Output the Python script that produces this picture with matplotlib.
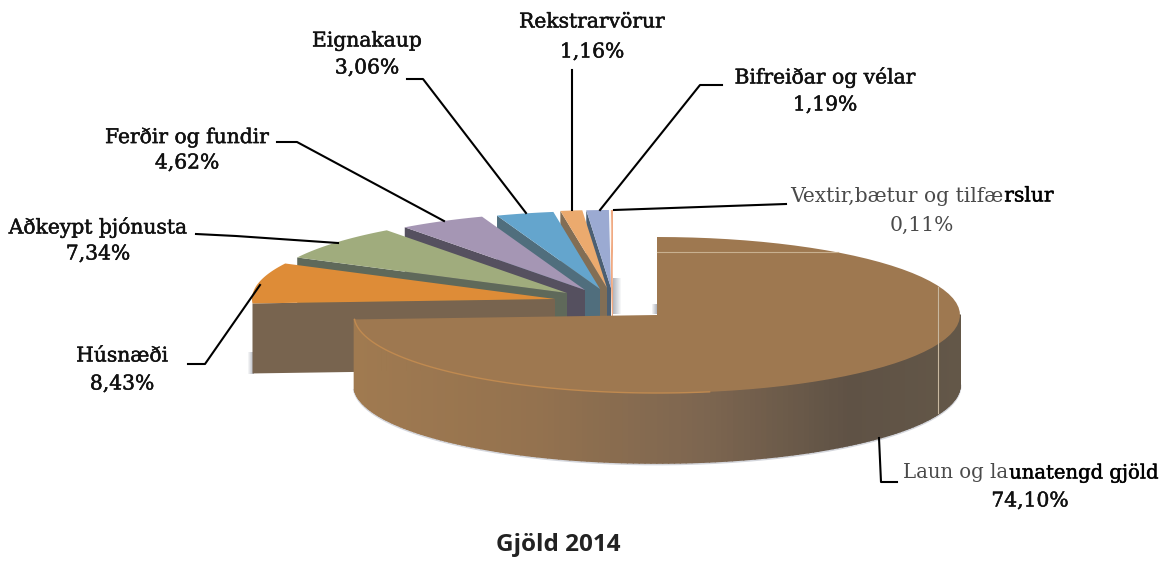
#!/usr/bin/env python
"""Exploded 3D style pie of Gjöld 2014, drawn with plain polygons."""
import matplotlib
matplotlib.use("Agg")
import matplotlib.patheffects as pe
import matplotlib.pyplot as plt
from matplotlib.collections import PolyCollection
from matplotlib.colors import LinearSegmentedColormap
import numpy as np

labels = ["Laun og launatengd gjöld", "Húsnæði", "Aðkeypt þjónusta",
          "Ferðir og fundir", "Eignakaup", "Rekstrarvörur",
          "Bifreiðar og vélar", "Vextir,bætur og tilfærslur"]
values = [74.10, 8.43, 7.34, 4.62, 3.06, 1.16, 1.19, 0.11]
value_text = ["74,10%", "8,43%", "7,34%", "4,62%", "3,06%", "1,16%", "1,19%", "0,11%"]
title = "Gjöld 2014"

# layout, in picture pixels
tips = [(657, 315), (555, 299), (567, 293), (585, 290), (600, 289),
        (607, 288), (611, 288), (613, 288)]
top_colors = ["#9e7850", "#de8c37", "#a0ac7d", "#a596b4", "#64a5cd",
              "#ebaa6e", "#9baad2", "#f0aa82"]
wall_colors = ["#8a6a48", "#78644f", "#5f695a", "#55505f", "#506e7d",
               "#826e55", "#4b5f73", "#f0aa82"]
RX, RY = 303, 78
DEPTH = 70
SERIF = "DejaVu Serif"
FS = 14.6
INK = "#111111"
GREY = "#4a4a4a"
THICK = [pe.withStroke(linewidth=0.35, foreground=INK)]

fig = plt.figure(figsize=(11.67, 5.65), dpi=100)
ax = fig.add_axes([0, 0, 1, 1])
ax.set_xlim(0, 1167)
ax.set_ylim(565, 0)
ax.axis("off")


def rim(cx, cy, a0, a1, n=80):
    # angles run clockwise from 12 o'clock
    t = np.radians(np.linspace(a0, a1, n))
    return np.column_stack([cx + RX * np.sin(t), cy - RY * np.cos(t)])


edges = np.concatenate([[0], np.cumsum(values)]) / sum(values) * 360

# soft shadows, fading to the side
for x0, x1, y0, y1, step in [(613, 621, 278, 314, 1), (652, 657, 304, 314, -1),
                             (248, 254, 352, 374, -1)]:
    n = x1 - x0
    for k in range(n):
        f = (k + 1) / n if step < 0 else 1 - k / n
        ax.fill([x0 + k, x0 + k + 1, x0 + k + 1, x0 + k], [y0, y0, y1, y1],
                color="#b4b8c0", alpha=f, lw=0, antialiased=False, zorder=0)

# back to front, the main slice last
for i in range(len(values) - 1, -1, -1):
    cx, cy = tips[i]
    arc = rim(cx, cy, edges[i], edges[i + 1])
    z = 2 * (len(values) - i)
    if i > 0:
        # radial face under the leading edge
        p = arc[0]
        ax.fill([p[0], cx, cx, p[0]], [p[1], cy, cy + DEPTH, p[1] + DEPTH],
                color=wall_colors[i], lw=0, zorder=z)
    else:
        front = rim(cx, cy, 90, edges[1], 160)
        low = front + [0, DEPTH]
        # thin shadow under the outer wall
        ax.plot(low[:, 0], low[:, 1] + 1, color="#d4d6dc", lw=2, zorder=z - 1)
        quads = [[front[k], front[k + 1], low[k + 1], low[k]]
                 for k in range(len(front) - 1)]
        mid = np.array([q[0][0] for q in quads])
        stops = [(0.0, "#a07a50"), (0.30, "#94724f"), (0.58, "#7d6650"),
                 (0.82, "#5f5245"), (1.0, "#635748")]
        cmap = LinearSegmentedColormap.from_list("wall", stops)
        pc = PolyCollection(quads, array=(mid - mid.min()) / (mid.max() - mid.min()),
                            cmap=cmap, linewidths=1.2, edgecolors="face", zorder=z)
        ax.add_collection(pc)
    ax.fill(np.r_[cx, arc[:, 0]], np.r_[cy, arc[:, 1]], color=top_colors[i], lw=0, zorder=z + 1)

# rim highlight and faint picture artefacts on the main slice
cx, cy = tips[0]
hl = rim(cx, cy, 170, edges[1], 80)
ax.plot(hl[:, 0], hl[:, 1], color="#c08a50", lw=1, zorder=20)
ax.plot([657, 838], [252, 252], color="#c8b090", lw=0.8, zorder=20)
ax.plot([938, 938], [287, 413], color="#c8b8a0", lw=0.8, zorder=20)

# leader lines
leaders = [
    [(879, 438), (881, 482), (897, 482)],
    [(260, 285), (205, 364), (188, 364)],
    [(338, 243), (236, 236), (196, 234)],
    [(444, 221), (297, 142), (277, 142)],
    [(526, 213), (423, 79), (407, 79)],
    [(572, 210), (572, 70)],
    [(600, 210), (700, 85), (722, 85)],
    [(614, 210), (786, 204)],
]
for pts in leaders:
    xs, ys = zip(*pts)
    ax.plot(xs, ys, color="black", lw=1.5, zorder=30)

label_pos = [None, (122, 356, 384), (98, 227, 254), (187, 137, 163), (367, 41, 68),
             (592, 22, 52), (825, 77, 105), None]
for i, pos in enumerate(label_pos):
    if pos is None:
        continue
    ax.text(pos[0], pos[1], labels[i], family=SERIF, fontsize=FS, color=INK,
            ha="center", va="center", zorder=40, path_effects=THICK)
    ax.text(pos[0], pos[2], value_text[i], family=SERIF, fontsize=FS, color=INK,
            ha="center", va="center", zorder=40, path_effects=THICK)


def two_tone(x, y, first, second, size):
    # label that starts grey and turns dark part way along
    t = ax.text(x, y, first, family=SERIF, fontsize=size, color=GREY, ha="left", va="center", zorder=40)
    box = t.get_window_extent(fig.canvas.get_renderer())
    ax.text(box.x1 + 1, y, second, family=SERIF, fontsize=size, color="black",
            ha="left", va="center", zorder=40, path_effects=THICK)


two_tone(790, 196, labels[7][:-5], labels[7][-5:], FS)
ax.text(922, 225, value_text[7], family=SERIF, fontsize=FS, color=GREY, ha="center", va="center")
two_tone(903, 473, labels[0][:10], labels[0][10:], 14.1)
ax.text(1030, 501, value_text[0], family=SERIF, fontsize=FS, color=INK, ha="center", va="center",
        path_effects=THICK)

ax.text(558, 545, title, family="Open Sans", fontsize=17.5, weight="bold", color="#222222",
        ha="center", va="center")

fig.savefig("out.png", dpi=100)
